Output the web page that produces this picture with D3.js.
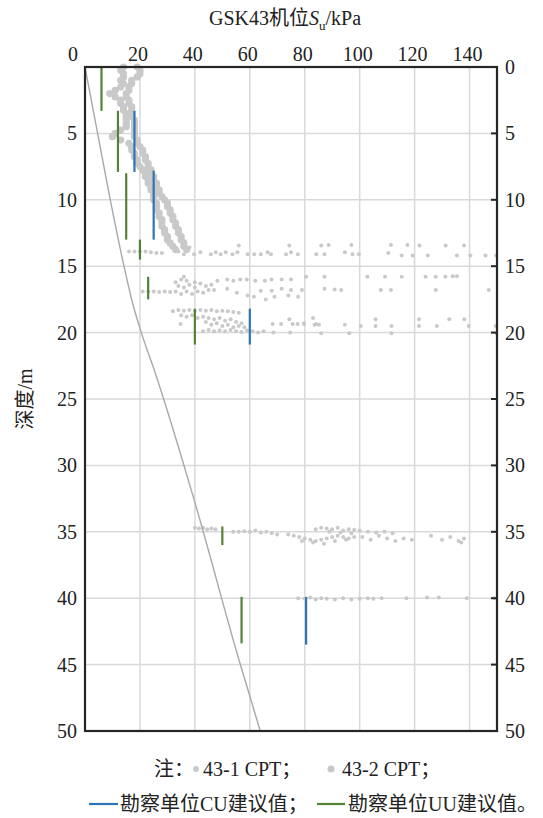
<!DOCTYPE html>
<html>
<head>
<meta charset="utf-8">
<script src="https://cdn.jsdelivr.net/npm/d3@7"></script>
<style>
  body { margin: 0; background: #fff; }
</style>
</head>
<body>
<div id="chart"></div>
<script>
// axis ticks
const xTicks = [0, 20, 40, 60, 80, 100, 120, 140];
const yTicks = [0, 5, 10, 15, 20, 25, 30, 35, 40, 45, 50];

// CPT points, [Su kPa, depth m]
const cpt1Profile = [[14,0],[13,0.25],[14,0.5],[14,0.75],[13,1],[14,1.25],[13,1.5],[11,1.75],[9,2],[11,2.25],[13,2.5],[13,2.75],[14,3],[14,3.25],[15,3.5],[15,3.75],[15,4],[15,4.25],[15,4.5],[13,4.75],[11,5],[10,5.25],[13,5.5],[16,5.75],[17,6],[17,6.25],[18,6.5],[18,6.75],[19,7],[19,7.25],[20,7.5],[21,7.75],[22,8],[22,8.25],[23,8.5],[23,8.75],[24,9],[24,9.25],[25,9.5],[25,9.75],[25,10],[26,10.25],[26,10.5],[26,10.75],[27,11],[27,11.25],[28,11.5],[28,11.75],[28,12],[29,12.25],[29,12.5],[30,12.75],[30,13],[31,13.25],[32,13.5],[33,13.75]];
const cpt2Profile = [[19,0],[20,0.25],[20,0.5],[19,0.75],[17,1],[17,1.25],[16,1.5],[16,1.75],[15,2],[15,2.25],[16,2.5],[16,2.75],[17,3],[17,3.25],[17,3.5],[17,3.75],[18,4],[18,4.25],[18,4.5],[18,4.75],[18,5],[18,5.25],[19,5.5],[19,5.75],[20,6],[21,6.25],[21,6.5],[22,6.75],[22,7],[23,7.25],[23,7.5],[24,7.75],[24,8],[25,8.25],[25,8.5],[26,8.75],[26,9],[27,9.25],[27,9.5],[28,9.75],[29,10],[30,10.25],[30,10.5],[31,10.75],[31,11],[32,11.25],[32,11.5],[33,11.75],[33,12],[34,12.25],[34,12.5],[35,12.75],[35,13],[36,13.25],[36,13.5],[37,13.75]];
const cpt1Band14 = [[16,13.9],[18,13.9],[20,13.9],[22,13.9],[24,13.95],[26,14],[28,14],[34,13.9],[36,14.1],[38,13.6],[39.7,14.1],[42,13.95],[45.8,14.1],[47.6,13.95],[49.4,14.1],[51.2,13.95],[53.7,14.1],[55.5,13.95],[56,13.45],[59.2,14.1],[61.6,14.1],[64,14.1],[66.5,13.95],[67.7,14.1],[73.2,14.1],[74.4,13.45],[75,13.95],[77.5,14.1],[84.2,14.1],[86,13.45],[87.2,14.1],[88.7,13.4],[94.6,13.95],[97,13.4],[97.4,14.1],[99.7,14.1],[110.4,14],[111.4,13.4],[115.3,14.2],[117.4,13.4],[119.3,14.2],[121.8,13.45],[124.8,14.2],[131.3,13.45],[135.4,14.2],[138,13.45],[140.3,14.2],[145.8,14.2],[149.7,14.2]];
const cpt2Band17 = [[21,16.9],[23,16.9],[25,16.9],[27,16.95],[29,16.9],[31,16.95],[33,16.2],[35,16],[37,16.1],[34,16.5],[36,16.6],[38,16.4],[40,16.6],[33,16.9],[35,17.1],[37,16.9],[39,17.1],[41,16.9],[43,17],[45,16.8],[42,16.3],[44,16.5],[46,16.4],[47,16.8],[36,15.8],[40,16.2],[48.2,16.1],[51.8,16],[54,16.1],[56.5,16],[58.9,16],[62,16.1],[65.5,16.1],[67.9,16],[71.6,16],[51.8,16.7],[55.3,17],[59.2,17.2],[64,16.85],[65.8,17.5],[68,16.85],[71.6,16.7],[74,17.2],[75,16],[75,16.8],[79,16.8],[80.5,15.8],[87.2,15.8],[87.2,16.7],[90.9,16.75],[93.3,16.8],[102.8,15.8],[109.2,15.8],[115.3,15.8],[107.7,16.8],[111.4,16.8],[124,15.8],[127.7,15.8],[131.2,15.8],[133.9,15.75],[135.4,15.75],[127.7,16.8],[147,16.8],[61.5,17.3],[69,17.3],[77.6,17.3]];
const cpt1Band19 = [[32,18.4],[34,18.3],[36,18.35],[38,18.3],[40,18.4],[42,18.3],[44,18.35],[46,18.3],[48,18.4],[50,18.35],[52,18.4],[54,18.45],[56,18.5],[35,18.7],[37,18.8],[39,18.7],[41,18.9],[43,18.8],[45,18.9],[47,19],[49,18.9],[51,19.1],[53,19],[55,19.2],[57,19.3],[44,19.2],[46,19.4],[48,19.3],[50,19.5],[52,19.4],[54,19.6],[56,19.5],[58,19.6],[34.8,19.35],[43,19.9],[45,19.8],[47,19.9],[49,19.85],[51,19.9],[53,19.8],[55,19.9],[57,19.95],[59,19.85],[61,19.9],[63,20],[65,19.9],[68.6,20],[74.7,20],[68.3,19.35],[71.4,19.35],[74.4,19],[75.6,19.35],[77.4,19.35],[79.8,19.35],[83,18.9],[84.2,19.35],[86,20.05],[79.7,19.3],[83.6,19.4],[85.2,19.4],[94.6,19.4],[96.2,20.05],[100.4,19.5],[105.8,19],[105.8,19.5],[111.6,19.5],[111.6,20.05],[121.6,19],[121.6,19.5],[128.1,19.5],[132.6,19],[138.1,19],[139.7,19.5],[149.5,19.5],[149.8,20.05]];
const cpt2Band35 = [[40,34.7],[41.5,34.75],[43,34.7],[44.5,34.8],[46,34.75],[47.5,34.8],[54,35],[56,35],[58,34.95],[60,35],[62,34.9],[64,35.05],[66,35],[68,35.1],[70,35.2],[84,34.8],[86,34.7],[88,34.75],[90,34.8],[92,34.7],[94,34.9],[96,34.8],[98,34.85],[100,34.9],[89,35],[93,35.05],[97,35.1],[103,35],[106,35.05],[109,35],[112,35.1],[74,35.2],[76,35.3],[78,35.4],[80,35.5],[82,35.6],[84,35.7],[86,35.6],[88,35.5],[90,35.4],[92,35.3],[94,35.4],[96,35.5],[98,35.4],[79,35.7],[83,35.8],[87,35.9],[91,35.7],[95,35.6],[101,35.4],[104,35.6],[107,35.3],[110,35.5],[113,35.7],[116,35.5],[119,35.6],[126,35.3],[130,35.6],[133,35.4],[136,35.7],[138,35.5],[137,35.8]];
const cpt2Band40 = [[77.6,40],[80,40.05],[82,39.95],[84,40.1],[86,40],[88,40.05],[91,40.1],[94,40],[97,40.1],[100,40.05],[103,40],[105,40.05],[108,40],[117,40],[124.5,39.95],[128.8,39.95],[139,40],[149,40]];

// grey reference line [Su, depth]
const refLine = [[0,0],[4.6,5],[9.2,10],[14.2,15],[17.6,18],[20.5,20],[25.5,23],[39.6,32.5],[56,44.6],[63.8,50]];

// suggested values [Su, top depth, bottom depth]
const cuValues = [[18,3.3,7.9],[25,7.8,13],[60,18.2,20.9],[80.5,39.9,43.5]];
const uuValues = [[6,0,3.3],[12,3.3,7.9],[15,8,13],[20,13,14.5],[23,15.8,17.5],[40,18.2,20.9],[50,34.6,36],[57,39.9,43.4]];

function draw () {
  const svgWidth = 543;
  const svgHeight = 818;
  const plot = { left: 85, right: 497, top: 67, bottom: 731 };
  const grey = '#c9c9c9';
  const serif = "'Liberation Serif', 'Times New Roman', 'Noto Sans CJK SC', serif";

  const svg = d3.select('#chart')
    .append('svg')
    .attr('width', svgWidth)
    .attr('height', svgHeight)
    .attr('font-family', serif);

  const x = d3.scaleLinear().domain([0, 150]).range([plot.left, plot.right]);
  const y = d3.scaleLinear().domain([0, 50]).range([plot.top, plot.bottom]);

  // grid
  svg.append('g').selectAll('line')
    .data(xTicks.filter(d => d > 0))
    .join('line')
    .attr('x1', d => x(d)).attr('x2', d => x(d))
    .attr('y1', plot.top).attr('y2', plot.bottom)
    .attr('stroke', '#d9d9d9').attr('stroke-width', 1.5);
  svg.append('g').selectAll('line')
    .data(yTicks.filter(d => d > 0 && d < 50))
    .join('line')
    .attr('x1', plot.left).attr('x2', plot.right)
    .attr('y1', d => y(d)).attr('y2', d => y(d))
    .attr('stroke', '#d9d9d9').attr('stroke-width', 1.5);

  // CPT points
  const dots = svg.append('g').attr('fill', grey);
  function addDots (data, r) {
    dots.append('g').selectAll('circle')
      .data(data)
      .join('circle')
      .attr('cx', d => x(d[0]))
      .attr('cy', d => y(d[1]))
      .attr('r', r);
  }
  addDots(cpt1Profile, 3.6);
  addDots(cpt2Profile, 3.6);
  addDots(cpt1Band14, 2);
  addDots(cpt2Band17, 2);
  addDots(cpt1Band19, 2);
  addDots(cpt2Band35, 2);
  addDots(cpt2Band40, 2);

  // reference line
  svg.append('path')
    .datum(refLine)
    .attr('fill', 'none')
    .attr('stroke', '#a8a8a8')
    .attr('stroke-width', 1.4)
    .attr('d', d3.line().curve(d3.curveMonotoneY).x(d => x(d[0])).y(d => y(d[1])));

  // suggested values
  function addBars (data, color) {
    svg.append('g').selectAll('line')
      .data(data)
      .join('line')
      .attr('x1', d => x(d[0])).attr('x2', d => x(d[0]))
      .attr('y1', d => y(d[1])).attr('y2', d => y(d[2]))
      .attr('stroke', color).attr('stroke-width', 2.2);
  }
  addBars(cuValues, '#2e75b6');
  addBars(uuValues, '#548235');

  // frame
  svg.append('rect')
    .attr('x', plot.left).attr('y', plot.top)
    .attr('width', plot.right - plot.left).attr('height', plot.bottom - plot.top)
    .attr('fill', 'none').attr('stroke', '#262626').attr('stroke-width', 2.2);

  // top axis labels
  svg.append('g').selectAll('text')
    .data(xTicks)
    .join('text')
    .attr('x', d => d === 0 ? x(d) - 12 : x(d) - 2)
    .attr('y', 61)
    .attr('text-anchor', 'middle')
    .attr('font-size', 20)
    .attr('fill', '#222')
    .text(d => d);

  // left labels
  svg.append('g').selectAll('text')
    .data(yTicks.filter(d => d > 0))
    .join('text')
    .attr('x', 77)
    .attr('y', d => y(d) + 7)
    .attr('text-anchor', 'end')
    .attr('font-size', 20)
    .attr('fill', '#222')
    .text(d => d);

  // right axis: inward ticks and labels
  svg.append('g').selectAll('line')
    .data(yTicks)
    .join('line')
    .attr('x1', plot.right - 6).attr('x2', plot.right)
    .attr('y1', d => y(d)).attr('y2', d => y(d))
    .attr('stroke', '#262626').attr('stroke-width', 2);
  svg.append('g').selectAll('text')
    .data(yTicks)
    .join('text')
    .attr('x', 505)
    .attr('y', d => y(d) + 7)
    .attr('font-size', 20)
    .attr('fill', '#222')
    .text(d => d);

  // title
  const title = svg.append('text')
    .attr('x', 285).attr('y', 25)
    .attr('text-anchor', 'middle')
    .attr('font-size', 20)
    .attr('fill', '#222');
  title.append('tspan').text('GSK43机位');
  title.append('tspan').attr('font-style', 'italic').text('S');
  title.append('tspan').attr('font-size', 13).attr('dy', 5).text('u');
  title.append('tspan').attr('dy', -5).text('/kPa');

  svg.append('text')
    .attr('transform', 'translate(32, 399) rotate(-90)')
    .attr('text-anchor', 'middle')
    .attr('font-size', 20)
    .attr('fill', '#222')
    .text('深度/m');

  // legend
  const legend = svg.append('g').attr('font-size', 20).attr('fill', '#222');
  legend.append('text').attr('x', 154).attr('y', 776).text('注：');
  legend.append('circle').attr('cx', 196).attr('cy', 769).attr('r', 3).attr('fill', grey);
  legend.append('text').attr('x', 203).attr('y', 776).text('43-1 CPT；');
  legend.append('circle').attr('cx', 331).attr('cy', 769).attr('r', 3.5).attr('fill', grey);
  legend.append('text').attr('x', 342).attr('y', 776).text('43-2 CPT；');

  legend.append('line').attr('x1', 89).attr('x2', 118).attr('y1', 804).attr('y2', 804)
    .attr('stroke', '#2e75b6').attr('stroke-width', 2.2);
  legend.append('text').attr('x', 120).attr('y', 811).text('勘察单位CU建议值；');
  legend.append('line').attr('x1', 317).attr('x2', 345).attr('y1', 804).attr('y2', 804)
    .attr('stroke', '#548235').attr('stroke-width', 2.2);
  legend.append('text').attr('x', 348).attr('y', 811).text('勘察单位UU建议值。');
}

draw();
</script>
</body>
</html>
